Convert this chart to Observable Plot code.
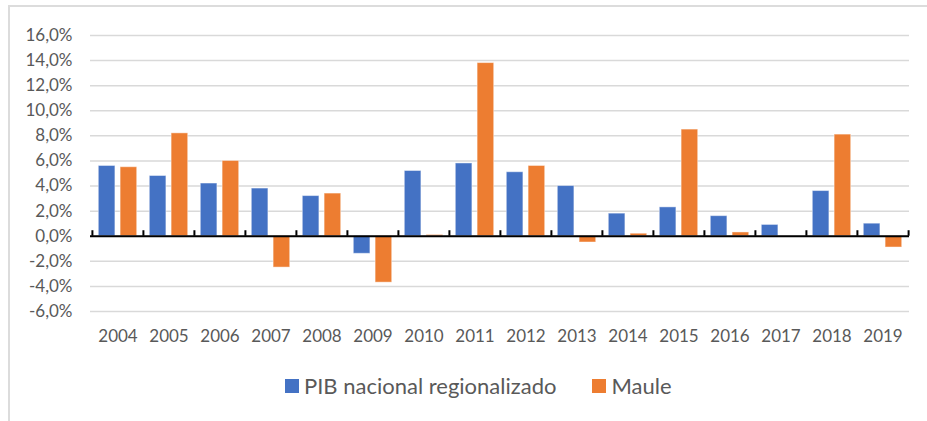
<!DOCTYPE html>
<html><head><meta charset="utf-8">
<script src="https://cdn.jsdelivr.net/npm/d3@7"></script>
<script src="https://cdn.jsdelivr.net/npm/@observablehq/plot@0.6"></script>
<style>
html,body{margin:0;padding:0;background:#fff;overflow:hidden;width:927px;height:421px;position:relative}
#frame{position:absolute;left:8px;top:5px;width:960px;height:460px;border-left:2px solid #dcdcdc;border-top:2px solid #dcdcdc;box-sizing:border-box}
#chart{position:absolute;left:0;top:0}
#legend{position:absolute;top:372px;left:285px;display:flex;align-items:center;font-family:Lato,sans-serif;font-size:22px;color:#595959;white-space:nowrap}
#legend .sw{display:inline-block;width:14px;height:14px;margin-right:5px}
#legend .item{display:flex;align-items:center;margin-right:36px}
</style>
</head><body>
<div id="frame"></div>
<div id="chart"></div>
<div id="legend"></div>
<script>
const years = ["2004","2005","2006","2007","2008","2009","2010","2011","2012","2013","2014","2015","2016","2017","2018","2019"];
const pib = [5.6,4.8,4.2,3.8,3.2,-1.4,5.2,5.8,5.1,4.0,1.8,2.3,1.6,0.9,3.6,1.0];
const maule = [5.5,8.2,6.0,-2.5,3.4,-3.7,0.1,13.8,5.6,-0.5,0.2,8.5,0.3,0.0,8.1,-0.9];
const seriesNames = ["PIB nacional regionalizado","Maule"];
const colors = ["#4472C4","#ED7D31"];
const yTicks = [-6,-4,-2,0,2,4,6,8,10,12,14,16];

const W = 927, H = 355, mL = 90, mR = 18, mT = 35, mB = 44;
const bw = (W - mL - mR) / years.length;
const barW = 0.328 * bw, gap = 0.098 * bw, outer = (bw - 2 * barW - gap) / 2;

const dataPib = years.map((y, i) => ({year: y, value: pib[i]}));
const dataMaule = years.map((y, i) => ({year: y, value: maule[i]}));
const fmt = v => v.toFixed(1).replace(".", ",") + "%";
const pxPerUnit = (H - mT - mB) / (16 - (-6));

const chart = Plot.plot({
  width: W, height: H,
  marginLeft: mL, marginRight: mR, marginTop: mT, marginBottom: mB,
  style: {fontFamily: "Lato, sans-serif", fontSize: "17px", color: "#595959", background: "transparent"},
  x: {type: "band", domain: years, padding: 0, axis: null, label: null},
  y: {domain: [-6, 16], axis: null, label: null},
  marks: [
    Plot.gridY(yTicks, {stroke: "#d9d9d9", strokeOpacity: 1, strokeWidth: 1.5}),
    Plot.barY(dataPib, {x: "year", y: "value", fill: colors[0], insetLeft: outer, insetRight: bw - outer - barW, stroke: "#fff", strokeOpacity: 0.45, strokeWidth: 1}),
    Plot.barY(dataMaule, {x: "year", y: "value", fill: colors[1], insetLeft: outer + barW + gap, insetRight: outer, stroke: "#fff", strokeOpacity: 0.45, strokeWidth: 1}),
    Plot.ruleY([0], {stroke: "#000", strokeWidth: 2}),
    Plot.ruleX(years, {x: d => d, dx: -bw / 2, y1: 0, y2: 5.5 / pxPerUnit, stroke: "#000", strokeWidth: 2}),
    Plot.ruleX([years[years.length - 1]], {x: d => d, dx: bw / 2, y1: 0, y2: 5.5 / pxPerUnit, stroke: "#000", strokeWidth: 2}),
    Plot.axisY(yTicks, {tickSize: 0, tickPadding: 18, tickFormat: fmt, fontSize: 17, label: null}),
    Plot.axisX(years, {anchor: "bottom", tickSize: 0, tickPadding: 18, fontSize: 17, label: null})
  ]
});
document.getElementById("chart").appendChild(chart);

const legend = document.getElementById("legend");
seriesNames.forEach((name, i) => {
  const item = document.createElement("span");
  item.className = "item";
  const sw = document.createElement("span");
  sw.className = "sw";
  sw.style.background = colors[i];
  const t = document.createElement("span");
  t.textContent = name;
  item.appendChild(sw); item.appendChild(t);
  legend.appendChild(item);
});
</script>
</body></html>
